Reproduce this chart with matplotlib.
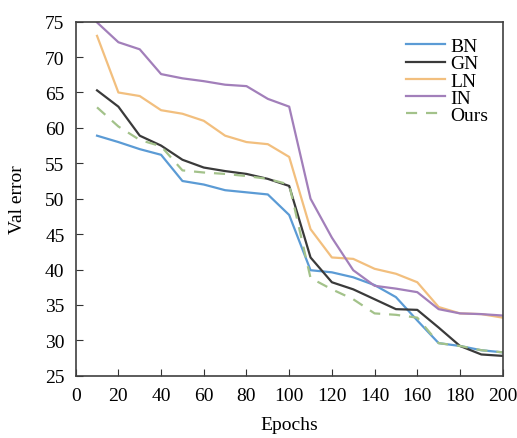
import matplotlib
matplotlib.use("Agg")
import matplotlib.pyplot as plt

plt.rcParams['font.family'] = ['Liberation Serif', 'DejaVu Serif']

epochs = [10, 20, 30, 40, 50, 60, 70, 80, 90, 100,
          110, 120, 130, 140, 150, 160, 170, 180, 190, 200]
bn = [58.9, 58.0, 57.0, 56.2, 52.5, 52.0, 51.2, 50.9, 50.6, 47.7,
      39.9, 39.6, 38.9, 37.8, 36.1, 32.8, 29.6, 29.2, 28.6, 28.3]
gn = [65.3, 63.0, 58.9, 57.5, 55.5, 54.4, 53.9, 53.5, 52.8, 51.8,
      41.7, 38.2, 37.2, 35.8, 34.4, 34.3, 31.8, 29.2, 28.0, 27.8]
ln = [73.0, 65.0, 64.5, 62.5, 62.0, 61.0, 58.9, 58.0, 57.7, 55.9,
      45.7, 41.7, 41.5, 40.1, 39.4, 38.2, 34.7, 33.8, 33.7, 33.2]
inn = [74.9, 72.1, 71.1, 67.6, 67.0, 66.6, 66.1, 65.9, 64.1, 63.0,
       50.0, 44.5, 39.9, 37.7, 37.3, 36.8, 34.4, 33.8, 33.7, 33.5]
ours = [62.9, 60.2, 58.3, 57.4, 54.0, 53.7, 53.5, 53.2, 52.8, 52.0,
        38.8, 37.2, 35.8, 33.8, 33.6, 33.2, 29.6, 29.2, 28.6, 28.3]

fig = plt.figure(figsize=(5.17, 4.39), dpi=100)
ax = fig.add_axes([0.1464, 0.1419, 0.8259, 0.8064])

ax.plot(epochs, bn, color='#5b9bd5', lw=1.6, label='BN')
ax.plot(epochs, gn, color='#3a3a3a', lw=1.6, label='GN')
ax.plot(epochs, ln, color='#f2bf7e', lw=1.6, label='LN')
ax.plot(epochs, inn, color='#a27fba', lw=1.6, label='IN')
ax.plot(epochs, ours, color='#a3c28a', lw=1.6, ls=(0, (5, 4)), label='Ours')

ax.set_xlim(0, 200)
ax.set_ylim(25, 75)
ax.set_xticks(range(0, 201, 20))
ax.set_yticks(range(25, 76, 5))
ax.tick_params(direction='in', labelsize=14, length=5, color='#333333', pad=8)
for s in ax.spines.values():
    s.set_color('#404040')
    s.set_linewidth(1.2)

ax.set_xlabel('Epochs', fontsize=14, labelpad=9)
ax.set_ylabel('Val error', fontsize=14, labelpad=14)

ax.legend(loc='upper right', bbox_to_anchor=(1.003, 0.999), frameon=False,
          fontsize=14, labelspacing=-0.02, handlelength=2.0,
          handletextpad=0.3, borderpad=0.3)

fig.savefig('out.png', dpi=100)
